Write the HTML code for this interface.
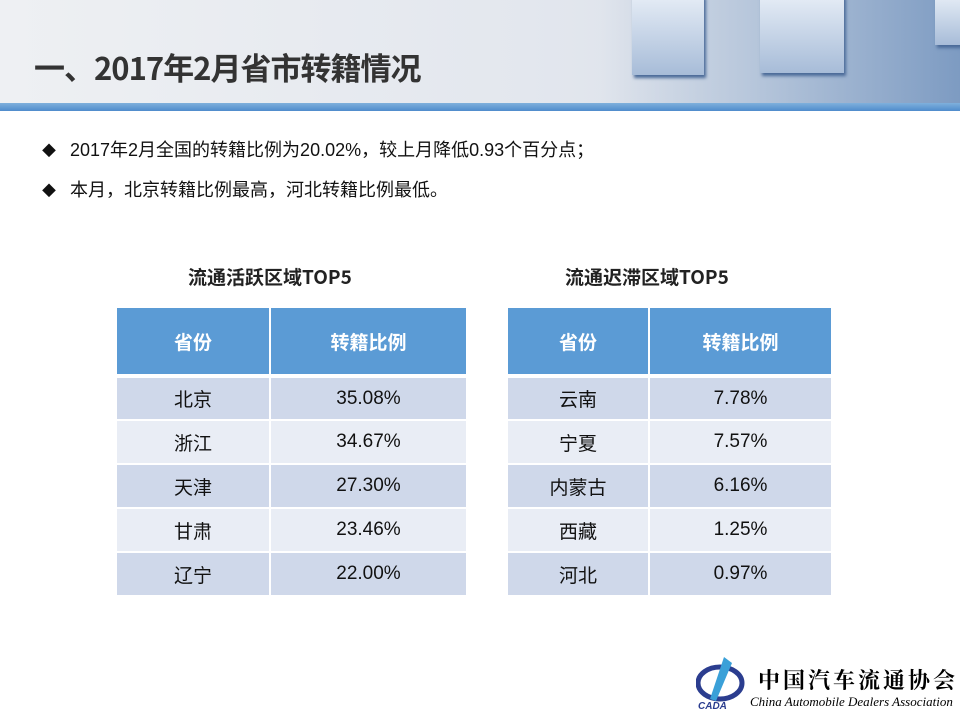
<!DOCTYPE html>
<html><head><meta charset="utf-8"><style>
*{margin:0;padding:0;box-sizing:border-box}
body{width:960px;height:720px;background:#fff;position:relative;overflow:hidden;font-family:"Liberation Sans","Noto Sans CJK SC",sans-serif}
.hdr{position:absolute;left:0;top:0;width:960px;height:103px;background:linear-gradient(90deg,#eef0f3 0%,#e3e7ee 55%,#d4dbe6 100%)}
.img{position:absolute;left:600px;top:0;width:360px;height:103px;background:linear-gradient(90deg,rgba(220,226,236,0) 0%,#b9c8dc 40%,#7d9bc2 100%)}
.box{position:absolute;background:linear-gradient(180deg,#e6edf6,#a7bcd8);box-shadow:2px 3px 3px #4a6a98}
.line{position:absolute;left:0;top:103px;width:960px;height:8px;background:linear-gradient(180deg,#7fb0dc,#4f8ccc)}
h1{position:absolute;left:34px;top:44px;font-size:31px;font-weight:bold;color:#333;font-family:"Noto Sans CJK SC",sans-serif;letter-spacing:-1px}
.b{position:absolute;left:42px;font-size:18px;color:#111}
.b span{display:inline-block;width:28px;font-size:14px}
.tt{position:absolute;font-size:19px;font-weight:bold;color:#222;font-family:"Noto Sans CJK SC",sans-serif}
table{position:absolute;border-collapse:collapse;font-size:19px}
td,th{border:2px solid #fff;text-align:center;padding:0;color:#111}
th{background:#5b9bd5;color:#fff;height:69px;font-weight:bold;font-family:"Noto Sans CJK SC",sans-serif;border-bottom:4px solid #fff}
tr:nth-child(even) td{background:#cfd8ea}
tr:nth-child(odd) td{background:#e9edf5}
td{height:44px}
</style></head><body>
<div class="hdr"></div><div class="img"></div>
<div class="box" style="left:632px;top:-5px;width:72px;height:80px"></div>
<div class="box" style="left:760px;top:-5px;width:84px;height:78px"></div>
<div class="box" style="left:935px;top:-5px;width:30px;height:50px"></div>
<div class="line"></div>
<h1>一、2017年2月省市转籍情况</h1>
<div class="b" style="top:136px"><span>◆</span>2017年2月全国的转籍比例为20.02%，较上月降低0.93个百分点；</div>
<div class="b" style="top:176px"><span>◆</span>本月，北京转籍比例最高，河北转籍比例最低。</div>
<div class="tt" style="left:188px;top:263px">流通活跃区域TOP5</div>
<div class="tt" style="left:565px;top:263px">流通迟滞区域TOP5</div>
<table style="left:115px;top:306px;width:353px">
<tr><th style="width:154px">省份</th><th>转籍比例</th></tr>
<tr><td>北京</td><td>35.08%</td></tr>
<tr><td>浙江</td><td>34.67%</td></tr>
<tr><td>天津</td><td>27.30%</td></tr>
<tr><td>甘肃</td><td>23.46%</td></tr>
<tr><td>辽宁</td><td>22.00%</td></tr>
</table>
<table style="left:506px;top:306px;width:327px">
<tr><th style="width:142px">省份</th><th>转籍比例</th></tr>
<tr><td>云南</td><td>7.78%</td></tr>
<tr><td>宁夏</td><td>7.57%</td></tr>
<tr><td>内蒙古</td><td>6.16%</td></tr>
<tr><td>西藏</td><td>1.25%</td></tr>
<tr><td>河北</td><td>0.97%</td></tr>
</table>
<svg style="position:absolute;left:696px;top:655px" width="52" height="56"><ellipse cx="24" cy="28" rx="22" ry="16" fill="none" stroke="#2b3d8f" stroke-width="5"/><path d="M28 2 L36 8 L20 46 L14 44Z" fill="#3aa0d8"/><text x="2" y="54" font-size="10" font-weight="bold" font-style="italic" fill="#2b3d8f" font-family="Liberation Sans">CADA</text></svg>
<div style="position:absolute;left:758px;top:664px;font-size:22px;font-weight:bold;letter-spacing:3px;font-family:'Noto Serif CJK SC',serif;color:#000">中国汽车流通协会</div>
<div style="position:absolute;left:750px;top:694px;font-size:13px;font-style:italic;font-family:'Liberation Serif',serif;color:#000">China Automobile Dealers Association</div>
</body></html>
